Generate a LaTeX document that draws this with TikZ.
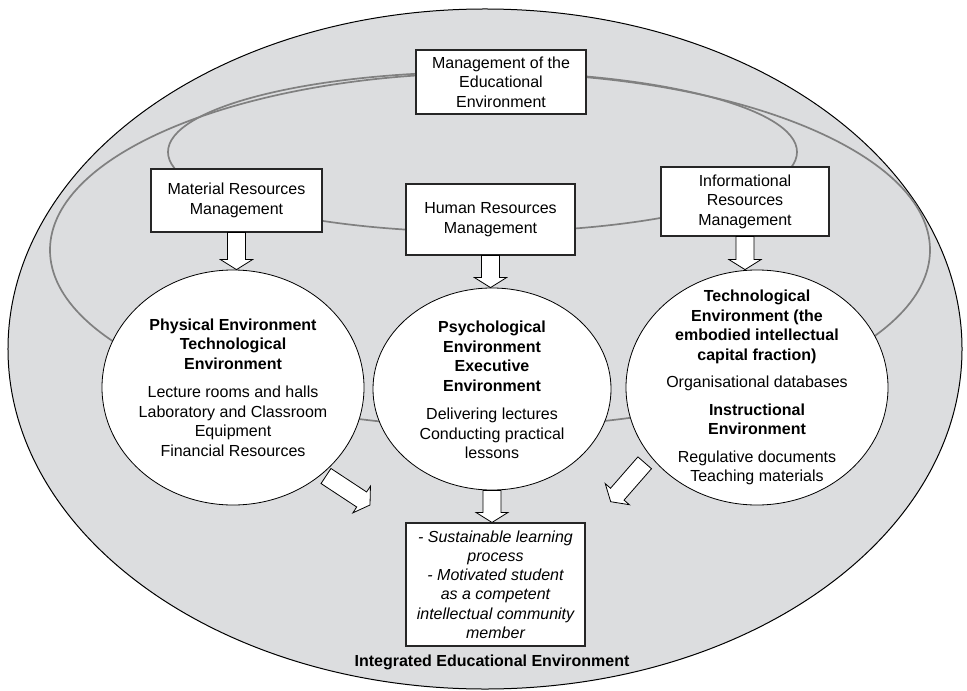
\documentclass[tikz,border=0pt]{standalone}
\usepackage{fontspec}
\setmainfont{Liberation Sans}
\usetikzlibrary{calc,shapes.geometric}
\definecolor{bgfill}{RGB}{220,221,223}
\definecolor{ringgray}{RGB}{128,128,128}
\newcommand{\blockarrow}[3]{%
  \coordinate (#3h) at ($(#2)!10bp!(#1)$);
  \draw[blockarr] ($(#1)!9bp!90:(#2)$) -- ($(#3h)!9bp!-90:(#1)$) -- ($(#3h)!16bp!-90:(#1)$) -- (#2) -- ($(#3h)!16bp!90:(#1)$) -- ($(#3h)!9bp!90:(#1)$) -- ($(#1)!9bp!-90:(#2)$) -- cycle;
}
\tikzset{
  txt/.style={align=center, font=\fontsize{16bp}{19.5bp}\selectfont, inner sep=0pt},
  mbox/.style={draw=black!85, line width=1.1bp, fill=white, align=center, inner sep=0pt,
    font=\fontsize{16bp}{19.5bp}\selectfont},
  envcirc/.style={ellipse, draw=black, line width=0.8bp, fill=white, inner sep=0pt},
  ring/.style={draw=ringgray, line width=1.7bp},
  blockarr/.style={draw=black, line width=0.8bp, fill=white, line join=miter},
}
\begin{document}
\begin{tikzpicture}[x=1bp, y=-1bp]
\useasboundingbox (0,0) rectangle (967,691);
% outer integrated environment
\draw[fill=bgfill, line width=1bp] (485,349) ellipse [x radius=477bp, y radius=340bp];
% management rings
\draw[ring] (490,250) ellipse [x radius=440bp, y radius=177bp];
\draw[ring] (482.5,152) ellipse [x radius=314.5bp, y radius=80bp];
% boxes
\node[mbox, minimum width=170bp, minimum height=64bp] (top) at (501,82)
  {Management of the\\Educational\\Environment};
\node[mbox, minimum width=171bp, minimum height=63bp] (mat) at (236.5,200.5)
  {Material Resources\\Management};
\node[mbox, minimum width=169bp, minimum height=71bp] (hum) at (490.5,219.5)
  {Human Resources\\Management};
\node[mbox, minimum width=168bp, minimum height=69bp] (inf) at (745,201.5)
  {Informational\\Resources\\Management};
% environment circles
\node[envcirc, minimum width=262bp, minimum height=235bp] (lc) at (233,387.5) {};
\node[envcirc, minimum width=238bp, minimum height=202bp] (mc) at (492,389) {};
\node[envcirc, minimum width=262bp, minimum height=235bp] (rc) at (757,387.5) {};
\node[txt] (lct) at (lc.center)
  {\textbf{Physical Environment}\\\textbf{Technological}\\\textbf{Environment}\\[9bp]
   Lecture rooms and halls\\Laboratory and Classroom\\Equipment\\Financial Resources};
\node[txt] (mct) at ($(mc.center)+(0,1)$)
  {\textbf{Psychological}\\\textbf{Environment}\\\textbf{Executive}\\\textbf{Environment}\\[9bp]
   Delivering lectures\\Conducting practical\\lessons};
\node[txt] (rct) at (rc.center)
  {\textbf{Technological}\\\textbf{Environment (the}\\\textbf{embodied intellectual}\\\textbf{capital fraction)}\\[8bp]
   Organisational databases\\[8bp]
   \textbf{Instructional}\\\textbf{Environment}\\[8bp]
   Regulative documents\\Teaching materials};
% outcome box
\node[mbox, minimum width=179bp, minimum height=123bp, font=\fontsize{16bp}{19.2bp}\selectfont\itshape] (out) at (495.5,584.5)
  {- Sustainable learning\\process\\- Motivated student\\as a competent\\intellectual community\\member};
\node[txt, font=\fontsize{16bp}{19.5bp}\selectfont\bfseries] (lbl) at (492,662)
  {Integrated Educational Environment};
% arrows
\coordinate (a1s) at (mat.south);
\coordinate (a1e) at (mat.south |- lc.north);
\blockarrow{a1s}{a1e}{a1}
\coordinate (a2s) at (hum.south);
\coordinate (a2e) at (hum.south |- mc.north);
\blockarrow{a2s}{a2e}{a2}
\coordinate (a3s) at (inf.south);
\coordinate (a3e) at (inf.south |- rc.north);
\blockarrow{a3s}{a3e}{a3}
\coordinate (a4s) at (mc.south);
\coordinate (a4e) at (mc.south |- out.north);
\blockarrow{a4s}{a4e}{a4}
\coordinate (a5s) at (326,476);
\coordinate (a5e) at (370,505);
\blockarrow{a5s}{a5e}{a5}
\coordinate (a6s) at (644.7,462.8);
\coordinate (a6e) at (610.7,501.7);
\blockarrow{a6s}{a6e}{a6}
\end{tikzpicture}
\end{document}
